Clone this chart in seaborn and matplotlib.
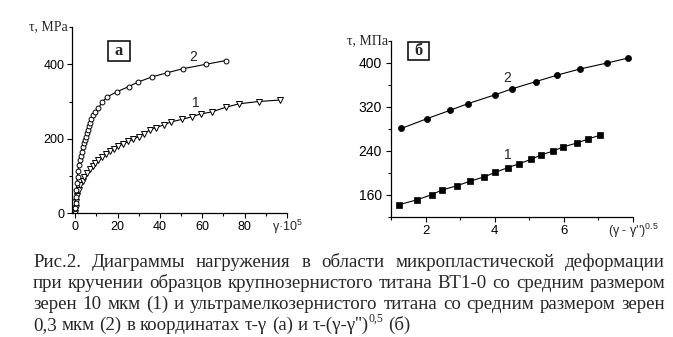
import numpy as np
import pandas as pd
import matplotlib
matplotlib.use("Agg")
import matplotlib.pyplot as plt
import matplotlib.transforms as mtransforms
from matplotlib.patches import Rectangle
import seaborn as sns

# ---------------- data ----------------
# panel (a): tau vs gamma*1e5
gamma_1 = [0, 0.2, 0.5, 0.9, 1.6, 2.4, 3.5, 4.4, 5.7, 6.8, 8.2, 9.4, 11, 12.6, 14.5, 16.5,
           18.5, 20.4, 22.8, 25.1, 27.5, 29.9, 32.5, 35.1, 38.2, 41.7, 45.1, 50.3, 55,
           59.4, 64.5, 71.3, 77.5, 86.6, 96.8]
tau_1 = [0, 13, 31, 47, 63, 76, 88, 98, 109, 118, 127, 134, 143, 152, 159, 166,
         173, 180, 187, 193, 199, 206, 214, 223, 230, 237, 245, 252, 259,
         267, 272, 285, 294, 300, 304]
gamma_2 = [0, 0.1, 0.2, 0.3, 0.5, 0.8, 1.1, 1.4, 1.7, 2.2, 2.7, 3.0, 3.6, 4.1, 4.6, 5.0,
           5.5, 6.0, 6.6, 7.1, 7.7, 8.6, 9.4, 11, 12.6, 15.2, 19.7, 25.2, 29.6, 36.2,
           43.3, 50.8, 61.8, 71.1]
tau_2 = [0, 15, 27, 45, 62, 80, 98, 114, 130, 143, 154, 165, 177, 188, 197, 206,
         215, 224, 234, 243, 253, 264, 273, 282, 298, 313, 326, 340, 352, 366,
         377, 388, 400, 410]

# panel (б): tau vs (gamma - gamma'')^0.5
root_1 = [1.24, 1.74, 2.18, 2.47, 2.92, 3.28, 3.70, 4.01, 4.37, 4.70, 5.06, 5.34,
          5.70, 5.98, 6.39, 6.71, 7.04]
tau_b1 = [142.5, 151, 160.6, 169, 177, 185, 193, 201, 209.5, 216.7, 225, 233,
          240, 247.5, 254.7, 262, 268.6]
root_2 = [1.30, 2.05, 2.71, 3.22, 4.0, 4.50, 5.18, 5.81, 6.46, 7.25, 7.86]
tau_b2 = [281, 299, 314, 326, 342, 353, 366, 378, 389, 400, 409]

a_xticks = [0, 20, 40, 60, 80, 100]
a_xticklabels = ["0", "20", "40", "60", "80", ""]
a_yticks = [0, 200, 400]
b_xticks = [2, 4, 6, 8]
b_xticklabels = ["2", "4", "6", ""]
b_yticks = [160, 240, 320, 400]

caption_lines = [
    "Рис.2. Диаграммы нагружения в области микропластической деформации",
    "при кручении образцов крупнозернистого титана ВТ1-0 со средним размером",
    "зерен 10 мкм (1) и ультрамелкозернистого титана со средним размером зерен",
    "0,3 мкм (2) в координатах τ-γ (а) и τ-(γ-γ'')^0,5 (б)",
]

# ---------------- style ----------------
sns.set_style("ticks")
plt.rcParams["font.family"] = ["Liberation Sans", "DejaVu Sans"]
plt.rcParams["mathtext.fontset"] = "custom"
plt.rcParams["mathtext.rm"] = "Liberation Sans"
plt.rcParams["mathtext.it"] = "Liberation Sans:italic"
plt.rcParams["mathtext.bf"] = "Liberation Sans:bold"
SERIF = ["Liberation Serif", "DejaVu Serif"]
SANS = ["Liberation Sans", "DejaVu Sans"]

W, H = 673, 337
fig = plt.figure(figsize=(W / 100, H / 100), dpi=100)
fig.patch.set_facecolor("white")

ax1 = fig.add_axes([72 / W, (H - 213.3) / H, 215 / W, 186.3 / H])
ax2 = fig.add_axes([391 / W, (H - 217) / H, 242 / W, 176 / H])

df_a1 = pd.DataFrame({"x": gamma_1, "y": tau_1})
df_a2 = pd.DataFrame({"x": gamma_2, "y": tau_2})
df_b1 = pd.DataFrame({"x": root_1, "y": tau_b1})
df_b2 = pd.DataFrame({"x": root_2, "y": tau_b2})

common = dict(x="x", y="y", estimator=None, sort=False, color="black", lw=0.8)
sns.lineplot(data=df_a1, ax=ax1, marker="v", markersize=4, markerfacecolor="white",
             markeredgecolor="black", markeredgewidth=0.7, **common)
sns.lineplot(data=df_a2, ax=ax1, marker="o", markersize=3.5, markerfacecolor="white",
             markeredgecolor="black", markeredgewidth=0.7, **common)
sns.lineplot(data=df_b1, ax=ax2, marker="s", markersize=4, markerfacecolor="black",
             markeredgecolor="black", markeredgewidth=0.5, **common)
sns.lineplot(data=df_b2, ax=ax2, marker="o", markersize=4.4, markerfacecolor="black",
             markeredgecolor="black", markeredgewidth=0.5, **common)

for ax in (ax1, ax2):
    ax.set_xlabel("")
    ax.set_ylabel("")
    ax.set_facecolor("white")
    for s in ("top", "right"):
        ax.spines[s].set_visible(False)
    for s in ("left", "bottom"):
        ax.spines[s].set_linewidth(0.9)
        ax.spines[s].set_color("black")
    ax.tick_params(which="major", direction="out", length=3.5, width=0.8,
                   labelsize=9, pad=2, colors="black")
    ax.tick_params(which="minor", direction="out", length=2.2, width=0.8, colors="black")
ax2.tick_params(axis="y", which="major", labelsize=10, pad=3)
ax2.tick_params(axis="x", which="major", labelsize=9.5)

ax1.set_xlim(-1.5, 100)
ax1.set_ylim(0, 500)
ax1.set_xticks(a_xticks)
ax1.set_xticklabels(a_xticklabels)
ax1.set_xticks([10, 30, 50, 70, 90], minor=True)
ax1.set_yticks(a_yticks)
ax1.set_yticks([100, 300, 500], minor=True)

ax2.set_xlim(1, 8)
ax2.set_ylim(120, 440)
ax2.set_xticks(b_xticks)
ax2.set_xticklabels(b_xticklabels)
ax2.set_xticks([1, 3, 5, 7], minor=True)
ax2.set_yticks(b_yticks)
ax2.set_yticks([120, 200, 280, 360, 440], minor=True)

# axis titles
ax1.text(-0.018, 1.0, "τ, MPa", transform=ax1.transAxes, ha="right", va="center",
         fontsize=10, family=SERIF)
ax2.text(-0.012, 1.0, "τ, МПа", transform=ax2.transAxes, ha="right", va="center",
         fontsize=10, family=SERIF)
ax1.annotate("γ·10$^{5}$", xy=(100, 0), xycoords=("data", "axes fraction"),
             xytext=(0, -3.5), textcoords="offset points", ha="center", va="top",
             fontsize=9, family=SANS)
ax2.annotate("(γ - γ'')$^{0.5}$", xy=(8, 0), xycoords=("data", "axes fraction"),
             xytext=(0, -3.5), textcoords="offset points", ha="center", va="top",
             fontsize=9, family=SANS)

# curve numbers
ax1.text(55.8, 420, "2", ha="center", va="center", fontsize=10, family=SANS)
ax1.text(56.9, 295, "1", ha="center", va="center", fontsize=10, family=SANS)
ax2.text(4.35, 373, "2", ha="center", va="center", fontsize=10, family=SANS)
ax2.text(4.39, 233, "1", ha="center", va="center", fontsize=10, family=SANS)

# boxed panel letters
def boxed(ax, x0, x1, y0, y1, letter):
    ax.add_patch(Rectangle((x0, y0), x1 - x0, y1 - y0, transform=ax.transAxes,
                           fill=True, fc="white", ec="black", lw=1.1, clip_on=False,
                           zorder=5))
    ax.text((x0 + x1) / 2, (y0 + y1) / 2, letter, transform=ax.transAxes,
            ha="center", va="center", fontsize=12, fontweight="bold", family=SERIF,
            zorder=6)

boxed(ax1, (108 - 72) / 215, (130 - 72) / 215, (213.3 - 61) / 186.3, (213.3 - 41) / 186.3, "a")
boxed(ax2, (408 - 391) / 242, (429 - 391) / 242, (217 - 60) / 176, (217 - 42) / 176, "б")

# caption, justified
renderer = fig.canvas.get_renderer()
ident = mtransforms.IdentityTransform()
X0, X1 = 33, 665
baselines = [H - 267, H - 288, H - 309, H - 330]
CAP_FS = 13.6
space_px = CAP_FS * 100 / 72 * 0.25
for i, line in enumerate(caption_lines):
    words = line.split(" ")
    items = []  # (text objects list, total width)
    for w in words:
        if "^" in w:
            base, rest = w.split("^")
            sup, tail = rest[:3], rest[3:]
            parts = [(base, CAP_FS, 0), (sup, CAP_FS * 0.62, CAP_FS * 100 / 72 * 0.42)]
            if tail:
                parts.append((tail, CAP_FS, 0))
        else:
            parts = [(w, CAP_FS, 0)]
        objs = []
        for s, fs, dy in parts:
            t = fig.text(0, baselines[i] + dy, s, transform=ident, ha="left",
                         va="baseline", fontsize=fs, family=SERIF)
            objs.append((t, t.get_window_extent(renderer).width))
        items.append(objs)
    widths = [sum(wd for _, wd in objs) for objs in items]
    if i < len(caption_lines) - 1:
        gap = (X1 - X0 - sum(widths)) / (len(items) - 1)
    else:
        gap = space_px
    x = X0
    for objs, wtot in zip(items, widths):
        xx = x
        for t, wd in objs:
            t.set_x(xx)
            xx += wd
        x += wtot + gap

fig.savefig("out.png", dpi=100, facecolor="white")
